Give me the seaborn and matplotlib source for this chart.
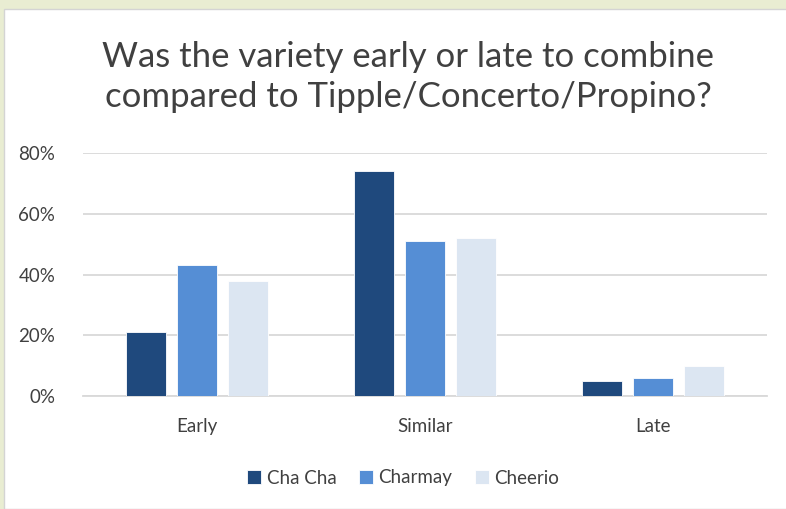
import matplotlib
matplotlib.use("Agg")
import matplotlib.pyplot as plt
import seaborn as sns
import pandas as pd
from matplotlib.patches import Rectangle
from matplotlib.ticker import PercentFormatter

categories = ["Early", "Similar", "Late"]
varieties = ["Cha Cha", "Charmay", "Cheerio"]
cha_cha = [0.21, 0.74, 0.05]
charmay = [0.43, 0.51, 0.06]
cheerio = [0.38, 0.52, 0.10]
colors = ["#1F497D", "#558ED5", "#DCE6F2"]
title = "Was the variety early or late to combine\ncompared to Tipple/Concerto/Propino?"

rows = []
for name, vals in zip(varieties, [cha_cha, charmay, cheerio]):
    for c, v in zip(categories, vals):
        rows.append({"Category": c, "Variety": name, "Value": v})
df = pd.DataFrame(rows)

sns.set_theme(style="white")
plt.rcParams["font.family"] = ["Lato", "DejaVu Sans"]

fig = plt.figure(figsize=(7.86, 5.09), dpi=100)
fig.patch.set_facecolor("#E9EDD2")
panel = Rectangle((4 / 786, 0), 1, 1 - 9 / 509, transform=fig.transFigure,
                  facecolor="white", edgecolor="#D4D4D4", linewidth=1.0, zorder=-10)
fig.add_artist(panel)

ax = fig.add_axes([83 / 786, 1 - 396 / 509, 684 / 786, (396 - 153) / 509])
ax.set_facecolor("none")
sns.barplot(data=df, x="Category", y="Value", hue="Variety", order=categories,
            hue_order=varieties, palette=colors, saturation=1, width=0.672, gap=0.22,
            edgecolor="white", linewidth=0.6, ax=ax, legend=True, zorder=3)

ax.set_ylim(0, 0.8)
ax.set_xlim(-0.5, 2.5)
ax.set_yticks([0, 0.2, 0.4, 0.6, 0.8])
ax.yaxis.set_major_formatter(PercentFormatter(1.0, decimals=0))
ax.yaxis.grid(True, color="#D9D9D9", linewidth=1.3, zorder=0)
ax.set_axisbelow(True)
for s in ["top", "right", "left"]:
    ax.spines[s].set_visible(False)
ax.spines["bottom"].set_color("#D9D9D9")
ax.spines["bottom"].set_linewidth(1.3)
ax.set_xlabel("")
ax.set_ylabel("")
ax.tick_params(axis="both", length=0, labelsize=13.5, labelcolor="#404040")
ax.tick_params(axis="y", pad=20)
ax.tick_params(axis="x", pad=16)

handles, labels = ax.get_legend_handles_labels()
ax.get_legend().remove()
fig.legend(handles, labels, loc="center", bbox_to_anchor=(0.513, 1 - 478 / 509), ncol=3,
           frameon=False, fontsize=13.5, handlelength=0.75, handleheight=0.75,
           handletextpad=0.3, columnspacing=1.2, labelcolor="#404040")

fig.text(0.519, 1 - 77 / 509, title, ha="center", va="center", fontsize=25,
         color="#404040", linespacing=1.33)

fig.savefig("out.png", dpi=100, facecolor=fig.get_facecolor())
